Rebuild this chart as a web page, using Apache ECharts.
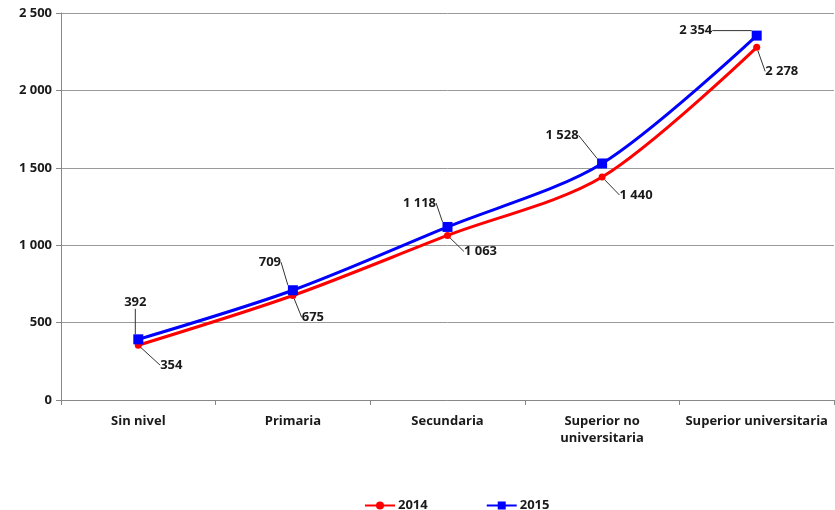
<!DOCTYPE html>
<html>
<head>
<meta charset="utf-8">
<script src="https://cdn.jsdelivr.net/npm/echarts@6/dist/echarts.min.js"></script>
<style>
html, body { margin: 0; padding: 0; background: #fff; }
#chart { width: 835px; height: 510px; }
</style>
</head>
<body>
<div id="chart"></div>
<script>
var categories = ['Sin nivel', 'Primaria', 'Secundaria', 'Superior no\nuniversitaria', 'Superior universitaria'];
var values2014 = [354, 675, 1063, 1440, 2278];
var values2015 = [392, 709, 1118, 1528, 2354];

// desplazamiento de las etiquetas respecto al punto
var offsets2014 = [[33, 20], [20, 22], [33, 16], [34, 18], [25, 24]];
var offsets2015 = [[-3, -37], [-23, -28], [-28, -24], [-40, -28], [-61, -5]];

function fmt(v) { // separador de miles con espacio
	return String(v).replace(/\B(?=(\d{3})+(?!\d))/g, ' ');
}

var myChart = echarts.init(document.getElementById('chart'));

var labelStyle = {
	show: true,
	position: 'inside',
	color: '#1a1a1a',
	fontFamily: 'Open Sans',
	fontWeight: 'bold',
	fontSize: 13,
	formatter: function (p) { return fmt(p.value); }
};

var option = {
	animation: false,
	grid: { left: 61, right: 1, top: 13, bottom: 110 },
	legend: {
		top: 494,
		left: 359,
		itemGap: 58,
		itemWidth: 30,
		itemHeight: 10,
		textStyle: { color: '#1a1a1a', fontFamily: 'Open Sans', fontWeight: 'bold', fontSize: 13, padding: [0, 0, 0, -2] },
		data: ['2014', '2015']
	},
	xAxis: {
		type: 'category',
		data: categories,
		boundaryGap: true,
		axisLine: { lineStyle: { color: '#888', width: 1 } },
		axisTick: { show: true, length: 5, lineStyle: { color: '#888' } },
		axisLabel: {
			color: '#1a1a1a',
			fontFamily: 'Open Sans',
			fontWeight: 'bold',
			fontSize: 13,
			margin: 13,
			interval: 0,
			lineHeight: 17
		}
	},
	yAxis: {
		type: 'value',
		min: 0,
		max: 2500,
		interval: 500,
		axisLine: { show: true, lineStyle: { color: '#888', width: 1 } },
		axisTick: { show: true, length: 5, lineStyle: { color: '#888' } },
		splitLine: { lineStyle: { color: '#999', width: 1 } },
		axisLabel: {
			color: '#1a1a1a',
			fontFamily: 'Open Sans',
			fontWeight: 'bold',
			fontSize: 13,
			margin: 9,
			formatter: fmt
		}
	},
	series: [{
			name: '2014',
			type: 'line',
			smooth: 0.3,
			symbol: 'circle',
			symbolSize: 7,
			color: '#ff0000',
			lineStyle: { width: 3, color: '#ff0000' },
			data: values2014,
			label: labelStyle,
			labelLine: { show: true, lineStyle: { color: '#333', width: 1 } },
			labelLayout: function (p) {
				var o = offsets2014[p.dataIndex];
				return { dx: o[0], dy: o[1] };
			},
			z: 2
		},
		{
			name: '2015',
			type: 'line',
			smooth: 0.3,
			symbol: 'rect',
			symbolSize: 10,
			color: '#0000ff',
			lineStyle: { width: 3, color: '#0000ff' },
			data: values2015,
			label: labelStyle,
			labelLine: { show: true, lineStyle: { color: '#333', width: 1 } },
			labelLayout: function (p) {
				var o = offsets2015[p.dataIndex];
				return { dx: o[0], dy: o[1] };
			},
			z: 3
		}
	]
};

myChart.setOption(option);
</script>
</body>
</html>
